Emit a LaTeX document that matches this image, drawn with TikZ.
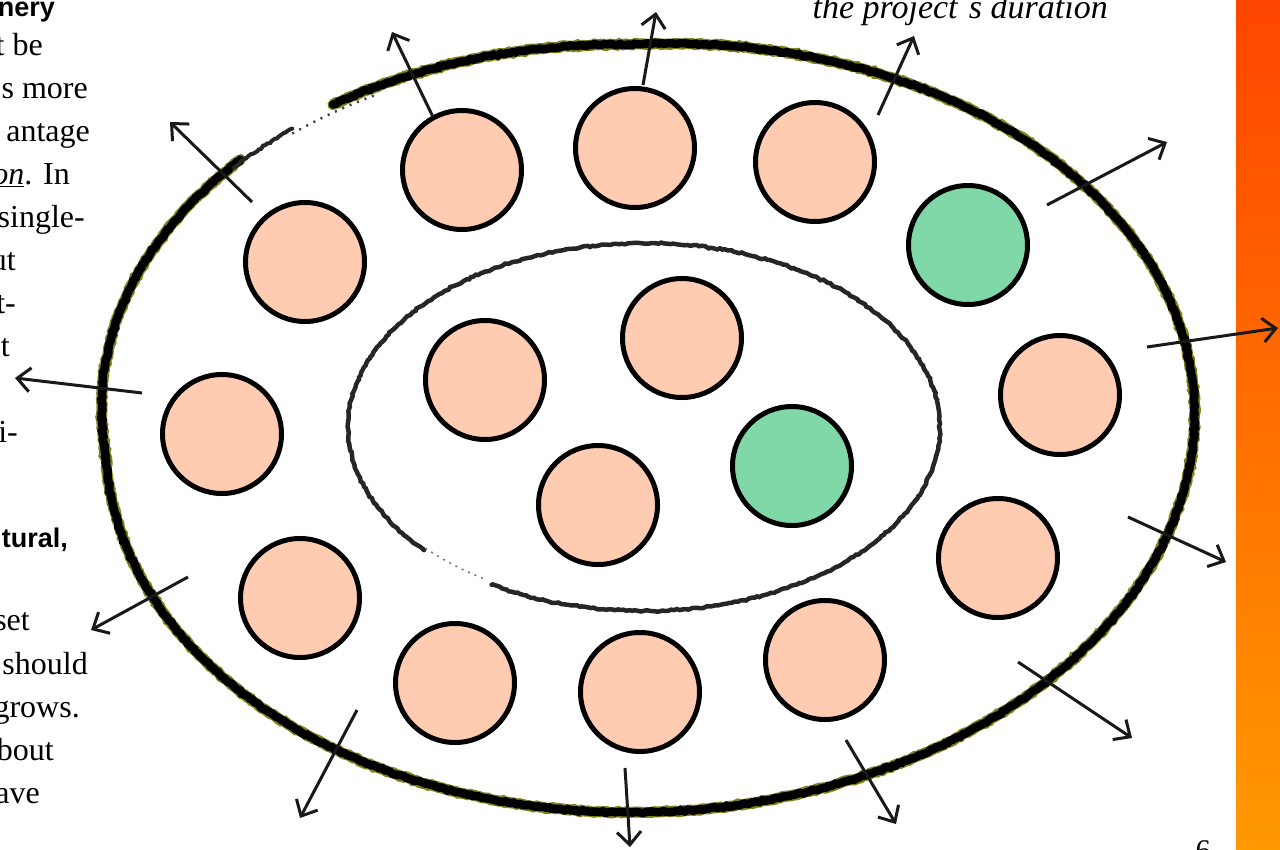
\documentclass[tikz,border=0pt]{standalone}
\usepackage{fontspec}
\setmainfont{Liberation Serif}
\newfontfamily\hsans{Liberation Sans}
\usetikzlibrary{arrows.meta,decorations.pathmorphing}
\definecolor{peach}{RGB}{255,204,178}
\definecolor{mint}{RGB}{128,216,168}
\definecolor{fringe}{RGB}{130,130,25}
\definecolor{barTop}{RGB}{255,69,0}
\definecolor{barBot}{RGB}{255,153,0}
\begin{document}
\begin{tikzpicture}[x=1pt,y=-1pt,
  ball/.style={circle,draw=black,line width=5pt,minimum size=119pt,inner sep=0pt,fill=peach},
  gball/.style={ball,fill=mint},
  push/.style={draw=black!90,line width=3pt,-{Straight Barb[length=13pt,width=24pt,line width=3pt]}},
  body/.style={anchor=base east,inner sep=0pt,font=\fontsize{32}{38}\selectfont},
  head/.style={anchor=base east,inner sep=0pt,font=\hsans\bfseries\fontsize{27}{32}\selectfont},
  rough/.style={decorate,decoration={random steps,segment length=3pt,amplitude=0.9pt}},
  declare function={mb(\t)=1+0.09*max(0,-sin(\t))*max(0,-cos(\t));
    ox(\t)=650+mb(\t)*(545*cos(\t)*0.9987+384*sin(\t)*0.05);
    oy(\t)=428+mb(\t)*(-545*cos(\t)*0.05+384*sin(\t)*0.9987);},
]
\useasboundingbox (0,0) rectangle (1280,849);
\clip (0,0) rectangle (1280,849);
\fill[white] (0,0) rectangle (1280,849);
\shade[top color=barTop,bottom color=barBot] (1236,0) rectangle (1280,849);

% outer hand-drawn ring (slightly tilted ellipse, sampled)
\draw[fringe,line width=11pt,rough,line cap=round] plot[domain=-122:226,samples=220] ({ox(\x)},{oy(\x)});
\draw[black,line width=8.5pt,rough,line cap=round] plot[domain=-122:226,samples=220] ({ox(\x)},{oy(\x)});
\draw[black!85,line width=4pt,rough,line cap=round] plot[domain=225:233,samples=10] ({ox(\x)},{oy(\x)+3});
\draw[black!75,line width=2.5pt,dash pattern=on 2pt off 6pt] plot[domain=233:243,samples=12] ({ox(\x)},{oy(\x)+8});

% inner hand-drawn ring
\draw[black!85,line width=4.5pt,rough,line cap=round] plot[domain=-222:121,samples=150] ({644+296*cos(\x)},{427+184*sin(\x)});
\draw[black!55,line width=1.5pt,dash pattern=on 2pt off 5pt] plot[domain=123:138,samples=20] ({644+296*cos(\x)},{424+184*sin(\x)});

% outer ring of circles
\node[ball]  (c1)  at (305,262) {};
\node[ball]  (c2)  at (462,170) {};
\node[ball]  (c3)  at (635,148) {};
\node[ball]  (c4)  at (815,162) {};
\node[gball] (c5)  at (968,245) {};
\node[ball]  (c6)  at (1060,395) {};
\node[ball]  (c7)  at (998,558) {};
\node[ball]  (c8)  at (825,660) {};
\node[ball]  (c9)  at (640,692) {};
\node[ball]  (c10) at (455,683) {};
\node[ball]  (c11) at (300,598) {};
\node[ball]  (c12) at (222,434) {};
% inner circles
\node[ball]  (c13) at (485,380) {};
\node[ball]  (c14) at (682,338) {};
\node[gball] (c15) at (792,466) {};
\node[ball]  (c16) at (598,505) {};

% arrows
\coordinate (a1s) at (252,202);  \coordinate (a1e) at (170,122);
\coordinate (a2s) at (433,117);  \coordinate (a2e) at (392,32);
\coordinate (a3s) at (643,85);   \coordinate (a3e) at (656,12);
\coordinate (a4s) at (878,115);  \coordinate (a4e) at (914,36);
\coordinate (a5s) at (1047,205); \coordinate (a5e) at (1167,142);
\coordinate (a6s) at (1147,347); \coordinate (a6e) at (1278,328);
\coordinate (a7s) at (1128,517); \coordinate (a7e) at (1226,562);
\coordinate (a8s) at (1018,662); \coordinate (a8e) at (1132,738);
\coordinate (a9s) at (846,740);  \coordinate (a9e) at (896,824);
\coordinate (a10s) at (625,768); \coordinate (a10e) at (630,847);
\coordinate (a11s) at (357,710); \coordinate (a11e) at (300,818);
\coordinate (a12s) at (188,577); \coordinate (a12e) at (91,630);
\coordinate (a13s) at (142,393); \coordinate (a13e) at (15,378);
\foreach \i in {1,...,13} {\draw[push] (a\i s) -- (a\i e);}

% cut-off text on the left
\node[head] (t0)  at (55,16)  {nery};
\node[body] (t1)  at (43,55)  {t be};
\node[body] (t2)  at (88,98)  {s more};
\node[body] (t3)  at (90,141) {antage};
\node[body] (t4)  at (70,184) {\underline{\textit{on}}. In};
\node[body] (t5)  at (85,227) {single-};
\node[body] (t6)  at (16,270) {ut};
\node[body] (t7)  at (16,313) {t-};
\node[body] (t8)  at (10,356) {t};
\node[body] (t9)  at (18,442) {i-};
\node[head] (t10) at (68,547) {tural,};
\node[body] (t11) at (30,630) {set};
\node[body] (t12) at (88,674) {should};
\node[body] (t13) at (80,717) {grows.};
\node[body] (t14) at (54,760) {bout};
\node[body] (t15) at (40,803) {ave};

% top caption and page number
\node[anchor=base east,inner sep=0pt,font=\itshape\fontsize{34}{40}\selectfont] (dur) at (1108,18) {the project´s duration};
\node[anchor=base,inner sep=0pt,font=\fontsize{30}{36}\selectfont] (pg) at (1203,860) {6};
\end{tikzpicture}
\end{document}
